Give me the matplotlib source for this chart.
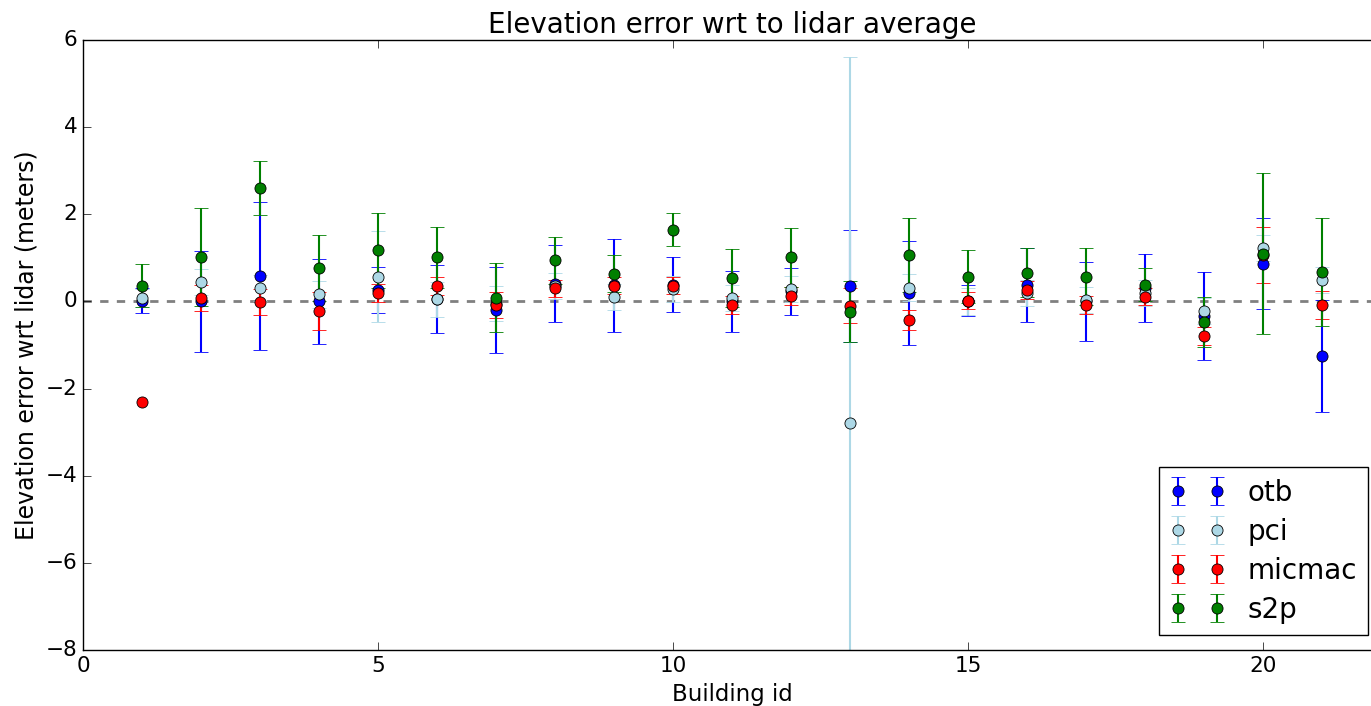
import numpy as np
import matplotlib
matplotlib.use('Agg')
from matplotlib import pyplot as plt

plt.style.use('classic')

# Building ids
building_id = np.arange(1, 22)

# Elevation errors (meters) and standard deviations per method
otb_mean = [0.02, 0.00, 0.59, 0.00, 0.26, 0.05, -0.20, 0.41, 0.37, 0.38, 0.00,
            0.23, 0.36, 0.19, 0.02, 0.37, 0.00, 0.30, -0.33, 0.87, -1.25]
otb_std = [0.28, 1.15, 1.70, 0.98, 0.53, 0.78, 0.98, 0.88, 1.07, 0.63, 0.70,
           0.53, 1.29, 1.20, 0.35, 0.85, 0.90, 0.78, 1.01, 1.04, 1.28]

pci_mean = [0.08, 0.44, 0.30, 0.16, 0.57, 0.05, -0.05, 0.35, 0.11, 0.28, 0.07,
            0.28, -2.79, 0.32, 0.00, 0.20, 0.03, 0.20, -0.22, 1.22, 0.49]
pci_std = [0.20, 0.30, 0.30, 0.30, 1.04, 0.40, 0.40, 0.30, 0.30, 0.30, 0.30,
           0.30, 8.40, 0.30, 0.30, 0.30, 0.30, 0.30, 0.30, 0.30, 0.30]

micmac_mean = [-2.31, 0.07, -0.02, -0.22, 0.19, 0.35, -0.08, 0.30, 0.36, 0.36, -0.08,
               0.13, -0.10, -0.43, 0.02, 0.26, -0.08, 0.11, -0.79, 1.07, -0.08]
micmac_std = [np.nan, 0.30, 0.30, 0.44, 0.20, 0.20, 0.30, 0.20, 0.20, 0.20, 0.20,
              0.20, 0.40, 0.23, 0.20, 0.20, 0.20, 0.20, 0.21, 0.64, 0.33]

s2p_mean = [0.36, 1.02, 2.61, 0.76, 1.18, 1.01, 0.09, 0.95, 0.64, 1.65, 0.54,
            1.01, -0.24, 1.06, 0.57, 0.66, 0.57, 0.38, -0.47, 1.10, 0.67]
s2p_std = [0.49, 1.12, 0.62, 0.76, 0.86, 0.70, 0.80, 0.54, 0.42, 0.38, 0.67,
           0.67, 0.70, 0.85, 0.61, 0.56, 0.66, 0.38, 0.58, 1.85, 1.24]

methods = ['otb', 'pci', 'micmac', 's2p']
colors = ['blue', 'lightblue', 'red', 'green']
means = [otb_mean, pci_mean, micmac_mean, s2p_mean]
stds = [otb_std, pci_std, micmac_std, s2p_std]

fig = plt.figure(figsize=(13.71, 7.06), dpi=100)
ax = fig.add_axes([0.0605, 0.0793, 0.9468, 0.8640])

ax.axhline(0, color='gray', linestyle='--', linewidth=2, dashes=(6, 6), zorder=1)

for name, col, m, s in zip(methods, colors, means, stds):
    ax.errorbar(building_id, m, yerr=s, fmt='o', color=col, ecolor=col,
                markersize=8, markeredgecolor='black', markeredgewidth=0.6,
                elinewidth=1.5, capsize=5, capthick=1.2, label=name)

ax.set_xlim(0, 22)
ax.set_ylim(-8, 6)
ax.set_xticks([0, 5, 10, 15, 20])
ax.set_yticks(np.arange(-8, 7, 2))
ax.tick_params(axis='both', which='major', labelsize=15.5, length=6)
ax.set_title('Elevation error wrt to lidar average', fontsize=20)
ax.set_xlabel('Building id', fontsize=16.5)
ax.set_ylabel('Elevation error wrt lidar (meters)', fontsize=17)

ax.legend(loc='lower right', numpoints=2, fontsize=20, labelspacing=0.4,
          borderaxespad=0,
          bbox_to_anchor=(1368 / 1371, 71 / 706), bbox_transform=fig.transFigure)

fig.savefig('out.png', dpi=100)
